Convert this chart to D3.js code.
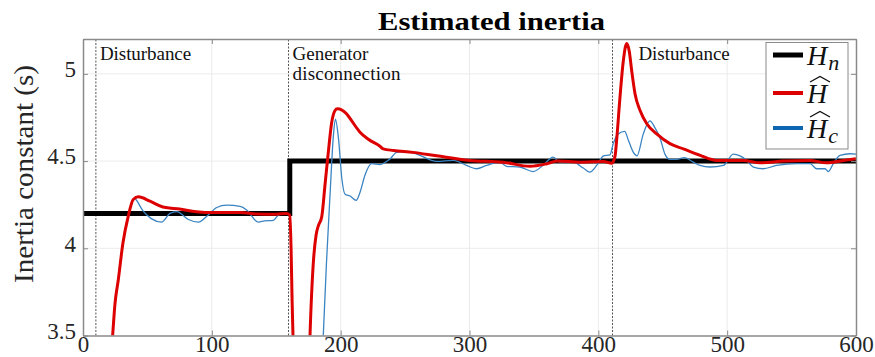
<!DOCTYPE html>
<html>
<head>
<meta charset="utf-8">
<script src="https://cdn.jsdelivr.net/npm/d3@7"></script>
<style>
  body { margin: 0; background: #fff; }
  svg { display: block; }
</style>
</head>
<body>
<script>
// size of window
var width = 875;
var height = 357;
var margin = {left: 83, right: 19, top: 39, bottom: 21.5};

// nominal inertia (step at the generator disconnection)
var hnTime = [0, 160.5, 160.5, 600];
var hnValue = [4.2, 4.2, 4.5, 4.5];

// estimated inertia H-hat, [time, value]
var hHat = [
  [20, 3.2], [23, 3.5], [24.8, 3.68], [27.4, 3.82], [31, 4.03], [35, 4.18], [39, 4.28],
  [43, 4.295], [52, 4.27], [62, 4.237], [75, 4.225], [88, 4.21], [101, 4.205], [122, 4.205],
  [135, 4.197], [150, 4.195], [158, 4.2], [160.5, 4.19], [161.5, 4.0], [162.3, 3.7], [163, 3.5],
  [164, 3.2], [175, 3.2], [176.2, 3.5], [178.8, 3.92], [180.9, 4.075], [182.7, 4.13],
  [185.3, 4.18], [187.8, 4.36], [190.4, 4.55], [193, 4.72], [195.6, 4.79], [197.4, 4.8],
  [204.7, 4.77], [208.6, 4.73], [215, 4.666], [221.5, 4.625], [230.5, 4.585], [233, 4.57],
  [241, 4.561], [256, 4.55], [274.5, 4.53], [300, 4.504], [326, 4.494], [347, 4.47],
  [360, 4.485], [368, 4.5], [386, 4.494], [404, 4.498], [410.5, 4.488], [413, 4.53],
  [414.2, 4.62], [416.8, 4.866], [419.4, 5.075], [422, 5.174], [424, 5.13], [425.9, 5.018],
  [428.5, 4.885], [432.4, 4.79], [437.6, 4.714], [445.3, 4.656], [455.6, 4.6], [466, 4.57],
  [479, 4.533], [492, 4.504], [512.5, 4.504], [525.5, 4.49], [543.6, 4.5], [564, 4.504],
  [577, 4.49], [590, 4.504], [600, 4.514]
];

// corrected estimate H-hat_c, [time, value]
var hHatC = [
  [40, 4.29], [42, 4.27], [46.6, 4.214], [53, 4.17], [61, 4.15], [67.5, 4.2], [72.7, 4.21],
  [81.8, 4.165], [89.5, 4.15], [97, 4.19], [103.8, 4.234], [111.5, 4.247], [122, 4.24],
  [127, 4.22], [136, 4.15], [141, 4.157], [147.7, 4.16], [151.6, 4.19], [156, 4.2],
  [160.5, 4.19], [161.5, 4.0], [162.3, 3.7], [163, 3.5], [164, 3.2], [185, 3.2], [186.5, 3.5],
  [189, 3.92], [191.7, 4.3], [194.4, 4.65], [195.9, 4.74], [198.3, 4.63], [200.9, 4.4],
  [203.4, 4.31], [207.3, 4.3], [212, 4.275], [215, 4.32], [218.9, 4.42], [224, 4.485],
  [230.5, 4.48], [238, 4.51], [243.5, 4.55], [251, 4.555], [259, 4.54], [274.5, 4.498],
  [287.4, 4.504], [297.7, 4.475], [305.5, 4.456], [313.2, 4.475], [323.6, 4.494],
  [328.8, 4.47], [339, 4.466], [349.5, 4.44], [357, 4.475], [365, 4.523], [370, 4.494],
  [380.5, 4.494], [388.3, 4.46], [393.5, 4.437], [398.7, 4.475], [404, 4.53], [409, 4.536],
  [411.6, 4.6], [415.5, 4.656], [420.5, 4.67], [423.3, 4.62], [427.2, 4.55], [430, 4.53],
  [434.9, 4.656], [440, 4.73], [444, 4.69], [448, 4.63], [451.7, 4.54], [455.6, 4.51],
  [460.8, 4.51], [467, 4.52], [473.7, 4.494], [479, 4.475], [486.7, 4.466], [497, 4.475],
  [504.8, 4.54], [510, 4.53], [515.2, 4.504], [520.3, 4.466], [528, 4.456], [538.4, 4.475],
  [554, 4.485], [564.3, 4.485], [569.5, 4.456], [576, 4.456], [578.5, 4.44], [582.4, 4.485],
  [587.6, 4.533], [595.4, 4.542], [600, 4.54]
];

// events (dotted lines) and their labels
var eventTimes = [10, 159.5, 411];
var labelTimes = [10, 159.5, 428];
var eventLabels = [["Disturbance"], ["Generator", "disconnection"], ["Disturbance"]];

// ticks
var xTicks = [0, 100, 200, 300, 400, 500, 600];
var yTicks = [3.5, 4, 4.5, 5];
var gridX = [100, 200, 300, 400, 500];
var gridY = [4, 4.5, 5];

var serif = "'Liberation Serif', 'Times New Roman', serif";

var svg = d3.select("body").append("svg").attr("width", width).attr("height", height);

var x = d3.scaleLinear().domain([0, 600]).range([margin.left, width - margin.right]);
var y = d3.scaleLinear().domain([3.5, 5.2]).range([height - margin.bottom, margin.top]);

svg.append("defs").append("clipPath").attr("id", "plotClip")
  .append("rect")
  .attr("x", x(0)).attr("y", y(5.2))
  .attr("width", x(600) - x(0)).attr("height", y(3.5) - y(5.2));

// grid
svg.append("g").selectAll("line").data(gridX).enter().append("line")
  .attr("x1", function(d){ return x(d); }).attr("x2", function(d){ return x(d); })
  .attr("y1", y(3.5)).attr("y2", y(5.2))
  .attr("stroke", "#ebebeb").attr("stroke-width", 1);
svg.append("g").selectAll("line").data(gridY).enter().append("line")
  .attr("x1", x(0)).attr("x2", x(600))
  .attr("y1", function(d){ return y(d); }).attr("y2", function(d){ return y(d); })
  .attr("stroke", "#ebebeb").attr("stroke-width", 1);

// event markers
svg.append("g").selectAll("line").data(eventTimes).enter().append("line")
  .attr("x1", function(d){ return x(d); }).attr("x2", function(d){ return x(d); })
  .attr("y1", y(3.5)).attr("y2", y(5.2))
  .attr("stroke", "#555").attr("stroke-width", 1).attr("stroke-dasharray", "2,1.5");

var labels = svg.append("g").attr("font-family", serif).attr("font-size", 19).attr("fill", "#111");
labelTimes.forEach(function(t, i){
  eventLabels[i].forEach(function(line, j){
    labels.append("text")
      .attr("x", x(t) + 4)
      .attr("y", 60 + j * 20)
      .attr("textLength", line.length > 10 ? line.length * 8.3 : null)
      .text(line);
  });
});

var line = d3.line()
  .x(function(d){ return x(d[0]); })
  .y(function(d){ return y(d[1]); })
  .curve(d3.curveMonotoneX);

var plot = svg.append("g").attr("clip-path", "url(#plotClip)");

plot.append("path")
  .attr("d", d3.line().x(function(d){ return x(d); }).y(function(d, i){ return y(hnValue[i]); })(hnTime))
  .attr("fill", "none").attr("stroke", "#000").attr("stroke-width", 5);

plot.append("path")
  .attr("d", line(hHatC))
  .attr("fill", "none").attr("stroke", "#3b84c2").attr("stroke-width", 1.3);

plot.append("path")
  .attr("d", line(hHat))
  .attr("fill", "none").attr("stroke", "#dd0000").attr("stroke-width", 3)
  .attr("stroke-linejoin", "round");

// axes
var axisColor = "#8a8a8a";
function styleAxis(g){
  g.select(".domain").attr("stroke", axisColor).attr("stroke-width", 1.5);
  g.selectAll(".tick line").attr("stroke", axisColor);
  g.selectAll("text").attr("fill", "#262626").attr("font-family", serif).attr("font-size", 23);
}

svg.append("g").attr("transform", "translate(0," + y(3.5) + ")")
  .call(d3.axisBottom(x).tickValues(xTicks).tickSizeInner(-5).tickSizeOuter(0).tickPadding(0))
  .call(styleAxis);
svg.append("g").attr("transform", "translate(0," + y(5.2) + ")")
  .call(d3.axisTop(x).tickValues(xTicks).tickSizeInner(-5).tickSizeOuter(0).tickFormat(""))
  .call(styleAxis);
svg.append("g").attr("transform", "translate(" + x(0) + ",0)")
  .call(d3.axisLeft(y).tickValues(yTicks).tickSizeInner(-5).tickSizeOuter(0).tickPadding(7).tickFormat(d3.format("")))
  .call(styleAxis)
  .selectAll("text").attr("dy", "0.12em");
svg.append("g").attr("transform", "translate(" + x(600) + ",0)")
  .call(d3.axisRight(y).tickValues(yTicks).tickSizeInner(-5).tickSizeOuter(0).tickFormat(""))
  .call(styleAxis);

// title and y label
svg.append("text")
  .attr("x", 378).attr("y", 30)
  .attr("font-family", serif).attr("font-weight", "bold").attr("font-size", 25)
  .attr("textLength", 227).attr("lengthAdjust", "spacingAndGlyphs")
  .attr("fill", "#000")
  .text("Estimated inertia");

svg.append("text")
  .attr("transform", "translate(33,174) rotate(-90)")
  .attr("text-anchor", "middle")
  .attr("font-family", serif).attr("font-size", 28)
  .attr("textLength", 218).attr("lengthAdjust", "spacingAndGlyphs")
  .attr("fill", "#262626")
  .text("Inertia constant (s)");

// legend
var legend = svg.append("g");
legend.append("rect")
  .attr("x", 766).attr("y", 42.5).attr("width", 82).attr("height", 106.5)
  .attr("fill", "#fff").attr("stroke", "#8a8a8a").attr("stroke-width", 1);

var legendItems = [
  {color: "#000", width: 5, y: 55, sub: "n", hat: false},
  {color: "#dd0000", width: 4, y: 93, sub: "", hat: true},
  {color: "#0d66b0", width: 4, y: 128, sub: "c", hat: true}
];
legendItems.forEach(function(d){
  legend.append("line")
    .attr("x1", 773).attr("x2", 803).attr("y1", d.y).attr("y2", d.y)
    .attr("stroke", d.color).attr("stroke-width", d.width);
  var base = d.y + 10;
  var t = legend.append("text")
    .attr("x", 807).attr("y", base)
    .attr("font-family", serif).attr("font-style", "italic").attr("font-size", 28)
    .attr("fill", "#111");
  t.append("tspan").text("H");
  if (d.sub) {
    t.append("tspan").attr("dy", 5).attr("dx", 1).attr("font-size", 22).text(d.sub);
  }
  if (d.hat) {
    legend.append("path")
      .attr("d", "M" + 810 + "," + (base - 21) + "L" + 820 + "," + (base - 26.5) + "L" + 830 + "," + (base - 21))
      .attr("fill", "none").attr("stroke", "#111").attr("stroke-width", 1.3);
  }
});
</script>
</body>
</html>
